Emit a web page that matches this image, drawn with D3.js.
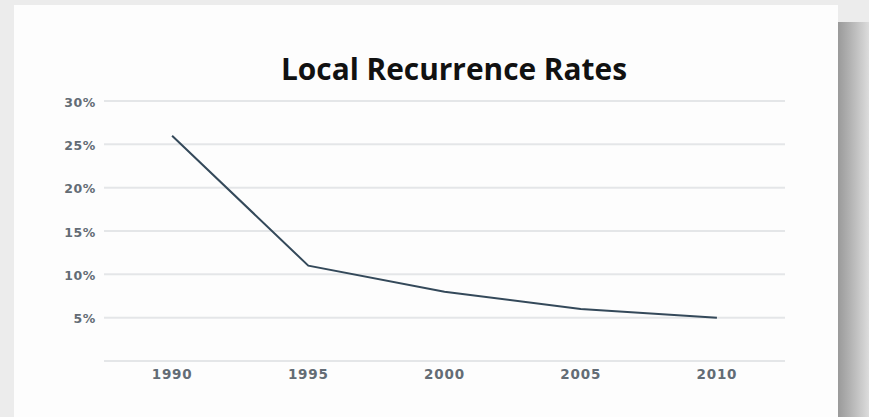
<!DOCTYPE html>
<html>
<head>
<meta charset="utf-8">
<script src="https://cdn.jsdelivr.net/npm/d3@7"></script>
<style>
  html, body { margin: 0; padding: 0; background: #eeeeee; }
  svg { display: block; }
</style>
</head>
<body>
<div id="grafica"></div>
<script>
// datos
var anios = ["1990", "1995", "2000", "2005", "2010"];
var tasas = [26, 11, 8, 6, 5];
var ticksY = [0, 5, 10, 15, 20, 25, 30];

var ancho = 869, alto = 417;

var svg = d3.select("#grafica").append("svg")
    .attr("width", ancho)
    .attr("height", alto);

// sombra de la tarjeta
var defs = svg.append("defs");
var grad = defs.append("linearGradient").attr("id", "sombra")
    .attr("x1", "0").attr("x2", "1").attr("y1", "0").attr("y2", "0");
grad.append("stop").attr("offset", "0").attr("stop-color", "#9a9a9a");
grad.append("stop").attr("offset", "0.35").attr("stop-color", "#b0b0b0");
grad.append("stop").attr("offset", "1").attr("stop-color", "#dcdcdc");

svg.append("rect").attr("x", 0).attr("y", 0).attr("width", ancho).attr("height", alto).attr("fill", "#ececec");
svg.append("rect").attr("x", 838).attr("y", 22).attr("width", 31).attr("height", alto - 22).attr("fill", "url(#sombra)");
svg.append("rect").attr("x", 14).attr("y", 5).attr("width", 824).attr("height", alto - 5).attr("fill", "#fdfdfd");

// escalas
var x = d3.scaleBand().domain(anios).range([104, 785]);
var y = d3.scaleLinear().domain([0, 30]).range([361, 101]);

// cuadricula
svg.append("g").selectAll("line")
    .data(ticksY)
    .enter().append("line")
    .attr("x1", 104).attr("x2", 785)
    .attr("y1", function (d) { return y(d); })
    .attr("y2", function (d) { return y(d); })
    .attr("stroke", "#e4e6e8")
    .attr("stroke-width", 2);

// etiquetas eje y (sin 0)
var ejeY = d3.axisLeft(y).tickValues(ticksY.filter(function (d) { return d > 0; }))
    .tickSize(0).tickPadding(0)
    .tickFormat(function (d) { return d + "%"; });
var gy = svg.append("g").attr("transform", "translate(96,1)").call(ejeY);
gy.select(".domain").remove();
gy.selectAll("text")
    .attr("fill", "#636c75")
    .style("font-family", "'DejaVu Sans', sans-serif")
    .style("font-weight", "700")
    .style("letter-spacing", "0.6px")
    .style("font-size", "12.5px");

// etiquetas eje x
var ejeX = d3.axisBottom(x).tickSize(0).tickPadding(0);
var gx = svg.append("g").attr("transform", "translate(0,369)").call(ejeX);
gx.select(".domain").remove();
gx.selectAll("text")
    .attr("fill", "#636c75")
    .style("font-family", "'DejaVu Sans', sans-serif")
    .style("font-weight", "700")
    .style("letter-spacing", "0.8px")
    .style("font-size", "13.5px");

// linea
var linea = d3.line()
    .x(function (d, i) { return x(anios[i]) + x.bandwidth() / 2; })
    .y(function (d) { return y(d); });

svg.append("path")
    .datum(tasas)
    .attr("d", linea)
    .attr("fill", "none")
    .attr("stroke", "#34495a")
    .attr("stroke-width", 2);

// titulo
svg.append("text")
    .attr("x", 454)
    .attr("y", 80)
    .attr("text-anchor", "middle")
    .attr("fill", "#111")
    .style("font-family", "'Open Sans', sans-serif")
    .style("font-weight", "700")
    .style("font-size", "31px")
    .attr("textLength", 346)
    .attr("lengthAdjust", "spacingAndGlyphs")
    .text("Local Recurrence Rates");
</script>
</body>
</html>
